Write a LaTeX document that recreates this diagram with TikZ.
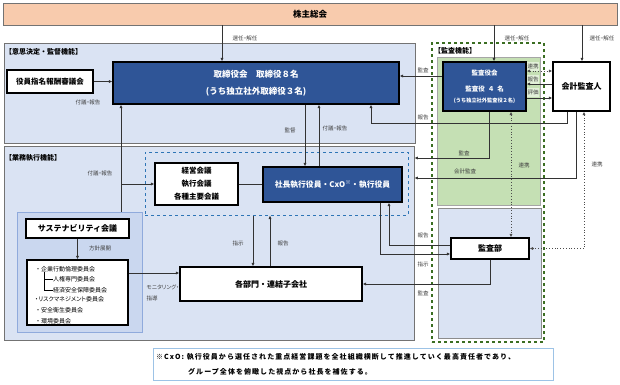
\documentclass[tikz,border=0pt]{standalone}
\usepackage{fontspec}
\setmainfont{Noto Sans CJK JP}
\newfontfamily\lblfont{Noto Sans CJK JP}[RawFeature=+palt]
\newfontfamily\notefont{Noto Sans CJK JP}[LetterSpace=15]
\usetikzlibrary{arrows.meta}
\definecolor{peach}{HTML}{F8CBAD}
\definecolor{paleblue}{HTML}{DAE3F3}
\definecolor{boardblue}{HTML}{2F5597}
\definecolor{palegreen}{HTML}{C5E0B4}
\definecolor{lightgreen}{HTML}{E2F0D9}
\definecolor{susblue}{HTML}{CAD7EF}
\definecolor{susline}{HTML}{8FAADC}
\definecolor{exline}{HTML}{2E75B6}
\definecolor{audgreen}{HTML}{3B6E22}
\definecolor{noteline}{HTML}{9DC3E6}
\definecolor{lblgray}{HTML}{404040}
\begin{document}
\begin{tikzpicture}[x=1pt, y=-1pt,
  panel/.style={draw=black!55, line width=0.8pt, fill=paleblue, inner sep=0pt},
  darkbox/.style={draw=black, line width=1.2pt, fill=boardblue, text=white, inner sep=0pt, align=center},
  whitebox/.style={draw=black, line width=1.3pt, fill=white, inner sep=0pt, align=center},
  sectitle/.style={anchor=west, inner sep=0pt, font=\fontsize{7}{8}\selectfont\bfseries},
  lbl/.style={inner sep=0.5pt, text=lblgray, font=\lblfont\fontsize{5.5}{6}\selectfont},
  item/.style={anchor=west, inner sep=0pt, font=\fontsize{6}{7}\selectfont},
  tree/.style={draw=black, line width=1pt},
  arr/.style={draw=black!80, line width=0.8pt, -{Latex[length=3.5pt,width=3.2pt]}},
  dotarr/.style={draw=black!70, line width=0.8pt, dotted, {Latex[length=3.5pt,width=3.2pt]}-{Latex[length=3.5pt,width=3.2pt]}}]
\useasboundingbox (0,0) rectangle (620,384);
% panels
\node[panel, fill=peach, minimum width=614pt, minimum height=22pt, font=\fontsize{8.5}{10}\selectfont\bfseries] (sh) at (310,14) {株主総会};
\node[panel, minimum width=411pt, minimum height=100pt] (dec) at (209.5,93) {};
\node[panel, minimum width=410pt, minimum height=194pt] (exe) at (209,243) {};
\node[draw=audgreen, dashed, line width=1.2pt, minimum width=112pt, minimum height=299pt] (aud) at (488,192.5) {};
\node[panel, fill=palegreen, draw=black!35, minimum width=103pt, minimum height=148pt] (agrn) at (488.5,131) {};
\node[panel, draw=black!45, minimum width=103pt, minimum height=130pt] (abl) at (489.5,273) {};
\node[sectitle] (t1) at (5,52) {【意思決定・監督機能】};
\node[sectitle] (t2) at (5,158) {【業務執行機能】};
\node[sectitle] (t3) at (434,51) {【監査機能】};
\node[draw=exline, dashed, line width=1pt, minimum width=263pt, minimum height=63pt] (exd) at (276.5,183.5) {};
\node[panel, fill=susblue, draw=susline, minimum width=125pt, minimum height=120pt] (susp) at (79.5,272) {};
% boxes
\node[darkbox, minimum width=286pt, minimum height=42pt, font=\fontsize{8.5}{17}\selectfont\bfseries] (brd) at (256,83) {取締役会　取締役８名\\(うち独立社外取締役３名)};
\node[whitebox, minimum width=86pt, minimum height=23pt, font=\fontsize{7.5}{9}\selectfont\bfseries] (nom) at (50,81.5) {役員指名報酬審議会};
\node[darkbox, minimum width=83pt, minimum height=49pt, font=\fontsize{6.5}{16}\selectfont\bfseries] (kyk) at (484.5,86.5) {監査役会\\監査役\hspace{3pt}４\hspace{3pt}名\\[-5pt]{\fontsize{5.2}{6}\selectfont (うち独立社外監査役２名)}};
\node[whitebox, minimum width=57pt, minimum height=49pt, font=\fontsize{8}{10}\selectfont\bfseries] (acc) at (581.5,86.5) {会計監査人};
\node[whitebox, minimum width=83pt, minimum height=42pt, font=\fontsize{7.5}{13}\selectfont\bfseries] (mtg) at (196.5,184) {経営会議\\執行会議\\各種主要会議};
\node[darkbox, minimum width=139pt, minimum height=35pt, font=\fontsize{7.8}{10}\selectfont\bfseries] (pres) at (332.5,184.5) {社長執行役員・CxO\textsuperscript{※}・執行役員};
\node[whitebox, minimum width=103pt, minimum height=19pt, font=\fontsize{8}{10}\selectfont\bfseries] (sus) at (77.5,228.5) {サステナビリティ会議};
\node[whitebox, minimum width=101pt, minimum height=65pt] (cmt) at (77.5,292.5) {};
\node[whitebox, minimum width=182pt, minimum height=34pt, font=\fontsize{8}{10}\selectfont\bfseries] (dep) at (271,284) {各部門・連結子会社};
\node[whitebox, minimum width=78pt, minimum height=21pt, font=\fontsize{8}{10}\selectfont\bfseries] (adp) at (490,248.5) {監査部};
% committees
\node[item] (c1) at (35,269) {・企業行動倫理委員会};
\node[item] (c2) at (53,279) {人権専門委員会};
\node[item] (c3) at (53,290) {経済安全保障委員会};
\node[item, font=\lblfont\fontsize{6}{7}\selectfont] (c4) at (35,299) {・リスクマネジメント委員会};
\node[item] (c5) at (35,310) {・安全衛生委員会};
\node[item] (c6) at (35,321) {・環境委員会};
\draw[tree] ([xshift=9pt]c1.south west) |- (c3.west);
\draw[tree] ([xshift=9pt]c1.south west |- c2.west) -- (c2.west);
% note
\node[draw=noteline, line width=0.8pt, fill=white, minimum width=400pt, minimum height=32pt] (note) at (353,364) {};
\node[anchor=west, inner sep=0pt, font=\notefont\fontsize{7}{8}\selectfont\bfseries] (n1) at (156,357) {※CxO: 執行役員から選任された重点経営課題を全社組織横断して推進していく最高責任者であり、};
\node[anchor=west, inner sep=0pt, font=\notefont\fontsize{7}{8}\selectfont\bfseries] (n2) at (188,372) {グループ全体を俯瞰した視点から社長を補佐する。};
% connector points
\coordinate (v1) at (222,0);
\coordinate (v2) at (494,0);
\coordinate (v3) at (582,0);
\coordinate (v4) at (305,0);
\coordinate (v5) at (319,0);
\coordinate (v6) at (121,0);
\coordinate (v7) at (511,0);
\coordinate (v8) at (584,0);
\coordinate (v9) at (253,0);
\coordinate (v10) at (270,0);
\coordinate (h1) at (0,76);
\coordinate (h2) at (0,71);
\coordinate (h3) at (0,84);
\coordinate (h4) at (0,98);
\coordinate (h5) at (0,273);
\coordinate (k1) at (567,123);
\coordinate (k2) at (371,123);
\coordinate (k3) at (489,158);
\coordinate (k4) at (576,178);
\coordinate (k5) at (380,254);
\coordinate (k6) at (389,245);
% label patches beside the audit board
\node[lbl, fill=lightgreen, minimum width=12pt, minimum height=9pt] (l5) at (533,66) {連携};
\node[lbl, fill=lightgreen, minimum width=12pt, minimum height=9pt] (l6) at (533,79) {報告};
\node[lbl, fill=lightgreen, minimum width=12pt, minimum height=9pt] (l7) at (533,92) {評価};
% connectors
\draw[arr] (sh.south -| v1) -- (brd.north -| v1);
\draw[arr] (sh.south -| v2) -- (kyk.north -| v2);
\draw[arr] (sh.south -| v3) -- (acc.north -| v3);
\draw[arr] (nom.east) -- (nom.east -| brd.west);
\draw[arr] (kyk.west |- h1) -- (brd.east |- h1);
\draw[dotarr] (kyk.east |- h2) -- (acc.west |- h2);
\draw[arr] (acc.west |- h3) -- (kyk.east |- h3);
\draw[arr] (kyk.east |- h4) -- (acc.west |- h4);
\draw[arr] (acc.south -| k1) -- (k1) -- (k2) -- (brd.south -| k2);
\draw[arr] (brd.south -| v4) -- (pres.north -| v4);
\draw[arr] (pres.north -| v5) -- (brd.south -| v5);
\draw[arr] (susp.north -| v6) -- (brd.south -| v6);
\draw[arr] (mtg.west -| v6) -- (mtg.west);
\draw[draw=black!80, line width=0.8pt] (mtg.east) -- (mtg.east -| pres.west);
\draw[arr] (kyk.south -| k3) -- (k3) -- (exe.east |- k3);
\draw[arr] (acc.south -| k4) -- (k4) -- (exe.east |- k4);
\draw[dotarr] (kyk.south -| v7) -- (adp.north -| v7);
\draw[dotarr] (acc.south -| v8) |- (adp.east);
\draw[arr] (pres.south -| k5) -- (k5) -- (adp.west |- k5);
\draw[arr] (adp.west |- k6) -- (k6) -- (pres.south -| k6);
\draw[arr] (adp.south) |- (dep.east);
\draw[arr] (exd.south -| v9) -- (dep.north -| v9);
\draw[arr] (dep.north -| v10) -- (exd.south -| v10);
\draw[arr] (sus.south) -- (cmt.north);
\draw[arr] (cmt.east |- h5) -- (dep.west |- h5);
% labels
\node[lbl] (l1) at (245,38) {選任・解任};
\node[lbl] (l2) at (517,38) {選任・解任};
\node[lbl] (l3) at (602,38) {選任・解任};
\node[lbl] (l4) at (423,70) {監査};
\node[lbl] (l8) at (423,117) {報告};
\node[lbl] (l9) at (88,102) {付議・報告};
\node[lbl] (l10) at (290,130) {監督};
\node[lbl] (l11) at (335,128) {付議・報告};
\node[lbl] (l12) at (100,173) {付議・報告};
\node[lbl] (l13) at (464,153) {監査};
\node[lbl] (l14) at (465,171) {会計監査};
\node[lbl] (l15) at (524,165) {連携};
\node[lbl] (l16) at (597,164) {連携};
\node[lbl] (l17) at (423,235) {報告};
\node[lbl] (l18) at (423,264) {指示};
\node[lbl] (l19) at (423,293) {監査};
\node[lbl] (l20) at (238,243) {指示};
\node[lbl] (l21) at (283,243) {報告};
\node[lbl] (l22) at (100,248) {方針展開};
\node[lbl, anchor=west] (l23) at (146,287) {モニタリング・};
\node[lbl, anchor=west] (l24) at (146,298) {指導};
\end{tikzpicture}
\end{document}
